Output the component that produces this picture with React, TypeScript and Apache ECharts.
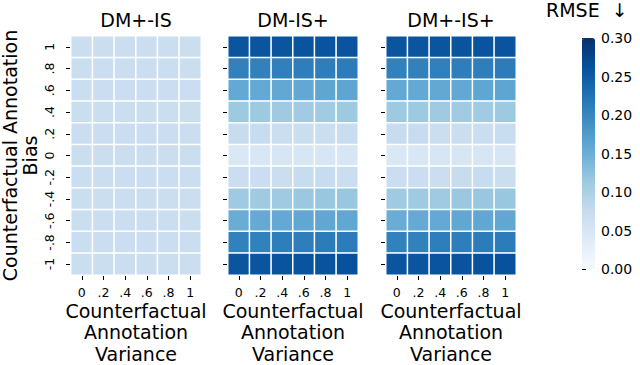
import React, { useEffect, useRef } from 'react';
import * as echarts from 'echarts';

const xCategories = ['0', '.2', '.4', '.6', '.8', '1'];
const yCategories = ['1', '.8', '.6', '.4', '.2', '0', '-.2', '-.4', '-.6', '-.8', '-1'];
const panelTitles = ['DM+-IS', 'DM-IS+', 'DM+-IS+'];
const xAxisTitle = 'Counterfactual\nAnnotation\nVariance';
const yAxisTitle = 'Counterfactual Annotation\nBias';
const colorbarTitle = 'RMSE  \u2193';

// rows: bias 1 (top) .. -1 (bottom); columns: variance 0 .. 1
const valuesDMplusIS = [
  [0.069, 0.069, 0.069, 0.069, 0.069, 0.069],
  [0.069, 0.069, 0.069, 0.069, 0.069, 0.069],
  [0.067, 0.067, 0.067, 0.067, 0.067, 0.067],
  [0.069, 0.069, 0.069, 0.069, 0.069, 0.069],
  [0.067, 0.067, 0.067, 0.067, 0.067, 0.067],
  [0.068, 0.068, 0.068, 0.068, 0.068, 0.068],
  [0.067, 0.067, 0.067, 0.067, 0.067, 0.067],
  [0.069, 0.069, 0.069, 0.069, 0.068, 0.068],
  [0.069, 0.069, 0.069, 0.069, 0.069, 0.069],
  [0.067, 0.067, 0.067, 0.067, 0.067, 0.067],
  [0.069, 0.069, 0.069, 0.069, 0.068, 0.068],
];

const valuesDMISplus = [
  [0.258, 0.258, 0.258, 0.259, 0.260, 0.260],
  [0.207, 0.207, 0.208, 0.210, 0.210, 0.212],
  [0.157, 0.157, 0.158, 0.158, 0.161, 0.162],
  [0.113, 0.113, 0.112, 0.111, 0.110, 0.113],
  [0.072, 0.072, 0.069, 0.068, 0.068, 0.070],
  [0.045, 0.047, 0.050, 0.050, 0.049, 0.050],
  [0.067, 0.067, 0.069, 0.072, 0.072, 0.069],
  [0.112, 0.112, 0.112, 0.115, 0.116, 0.116],
  [0.152, 0.155, 0.157, 0.160, 0.160, 0.160],
  [0.207, 0.207, 0.210, 0.210, 0.212, 0.212],
  [0.258, 0.258, 0.260, 0.260, 0.261, 0.262],
];

const valuesDMplusISplus = [
  [0.258, 0.258, 0.258, 0.259, 0.260, 0.260],
  [0.207, 0.207, 0.208, 0.210, 0.210, 0.212],
  [0.157, 0.157, 0.158, 0.158, 0.161, 0.162],
  [0.113, 0.113, 0.112, 0.111, 0.110, 0.113],
  [0.072, 0.072, 0.069, 0.068, 0.068, 0.070],
  [0.045, 0.047, 0.050, 0.050, 0.049, 0.050],
  [0.067, 0.067, 0.069, 0.072, 0.072, 0.069],
  [0.112, 0.112, 0.112, 0.115, 0.116, 0.116],
  [0.152, 0.155, 0.157, 0.160, 0.160, 0.160],
  [0.207, 0.207, 0.210, 0.210, 0.212, 0.212],
  [0.258, 0.258, 0.260, 0.260, 0.261, 0.262],
];

const panelValues = [valuesDMplusIS, valuesDMISplus, valuesDMplusISplus];

const colorMin = 0;
const colorMax = 0.3;
const colorInterval = 0.05;
const bluesPalette = ['#f7fbff', '#deebf7', '#c6dbef', '#9ecae1', '#6baed6', '#4292c6', '#2171b5', '#08519c', '#08306b'];

const FONT = 'DejaVu Sans';
const gridLefts = [71, 228, 386];
const gridTop = 36;
const gridWidth = 130;
const gridHeight = 239;

export default function App() {
  const ref = useRef<HTMLDivElement>(null);

  useEffect(() => {
    if (!ref.current) return;
    const chart = echarts.init(ref.current, undefined, { renderer: 'svg' });

    const grids: any[] = gridLefts.map((left) => ({
      left, top: gridTop, width: gridWidth, height: gridHeight, containLabel: false, outerBoundsMode: 'none',
    }));
    grids.push({ left: 582, top: 38, width: 13, height: 231, containLabel: false, outerBoundsMode: 'none' });

    const tick = { show: true, alignWithLabel: true, length: 4, lineStyle: { color: '#000', width: 1 } };

    const xAxes: any[] = gridLefts.map((_, i) => ({
      type: 'category',
      gridIndex: i,
      data: xCategories,
      position: 'bottom',
      offset: 1,
      axisLine: { show: false },
      axisTick: { ...tick, interval: 0 },
      axisLabel: { interval: 0, margin: 10, fontSize: 12.5, color: '#000', fontFamily: FONT },
      splitLine: { show: false },
      name: xAxisTitle,
      nameLocation: 'middle',
      nameGap: 24,
      nameMoveOverlap: false,
      nameTextStyle: { fontSize: 19, lineHeight: 21.5, color: '#000', fontFamily: FONT },
    }));
    xAxes.push({ type: 'value', gridIndex: 3, show: false, min: 0, max: 1 });

    const yAxes: any[] = gridLefts.map((_, i) => ({
      type: 'category',
      gridIndex: i,
      data: yCategories,
      inverse: true,
      position: 'left',
      offset: 1,
      axisLine: { show: false },
      axisTick: { ...tick, interval: 0 },
      axisLabel: { show: i === 0, interval: 0, rotate: 90, margin: 14, fontSize: 12.5, color: '#000', fontFamily: FONT },
      splitLine: { show: false },
      name: i === 0 ? yAxisTitle : '',
      nameLocation: 'middle',
      nameGap: 30,
      nameMoveOverlap: false,
      nameTextStyle: { fontSize: 19, lineHeight: 20, color: '#000', fontFamily: FONT },
    }));
    yAxes.push({
      type: 'value',
      gridIndex: 3,
      position: 'right',
      min: colorMin,
      max: colorMax,
      interval: colorInterval,
      axisLine: { show: false },
      axisTick: { show: true, length: 4, lineStyle: { color: '#000', width: 1 } },
      axisLabel: { margin: 6, fontSize: 14, color: '#000', fontFamily: FONT, formatter: (v: number) => v.toFixed(2) },
      splitLine: { show: false },
    });

    const series = panelValues.map((rows, i) => ({
      type: 'heatmap',
      xAxisIndex: i,
      yAxisIndex: i,
      data: rows.flatMap((row, r) => row.map((v, c) => [c, r, v])),
      itemStyle: { borderColor: '#ffffff', borderWidth: 1.5 },
      emphasis: { disabled: true },
    }));

    const graphics: any[] = panelTitles.map((t, i) => ({
      type: 'text',
      x: gridLefts[i] + gridWidth / 2,
      y: 20,
      style: { text: t, fontSize: 19, fontFamily: FONT, fill: '#000', textAlign: 'center', textVerticalAlign: 'middle' },
    }));
    graphics.push({
      type: 'text',
      x: 546,
      y: 9.5,
      style: { text: colorbarTitle, fontSize: 19, fontFamily: FONT, fill: '#000', textAlign: 'left', textVerticalAlign: 'middle' },
    });

    chart.setOption({
      animation: false,
      backgroundColor: '#ffffff',
      textStyle: { fontFamily: FONT },
      grid: grids,
      xAxis: xAxes,
      yAxis: yAxes,
      visualMap: {
        type: 'continuous',
        show: true,
        min: colorMin,
        max: colorMax,
        seriesIndex: [0, 1, 2],
        left: 582,
        top: 38,
        itemWidth: 13,
        itemHeight: 231,
        padding: 0,
        calculable: false,
        hoverLink: false,
        indicatorSize: 0,
        inRange: { color: bluesPalette },
      },
      series,
      graphic: graphics,
    });

    return () => chart.dispose();
  }, []);

  return <div ref={ref} style={{ position: 'fixed', left: 0, top: 0, width: 640, height: 365 }} />;
}
